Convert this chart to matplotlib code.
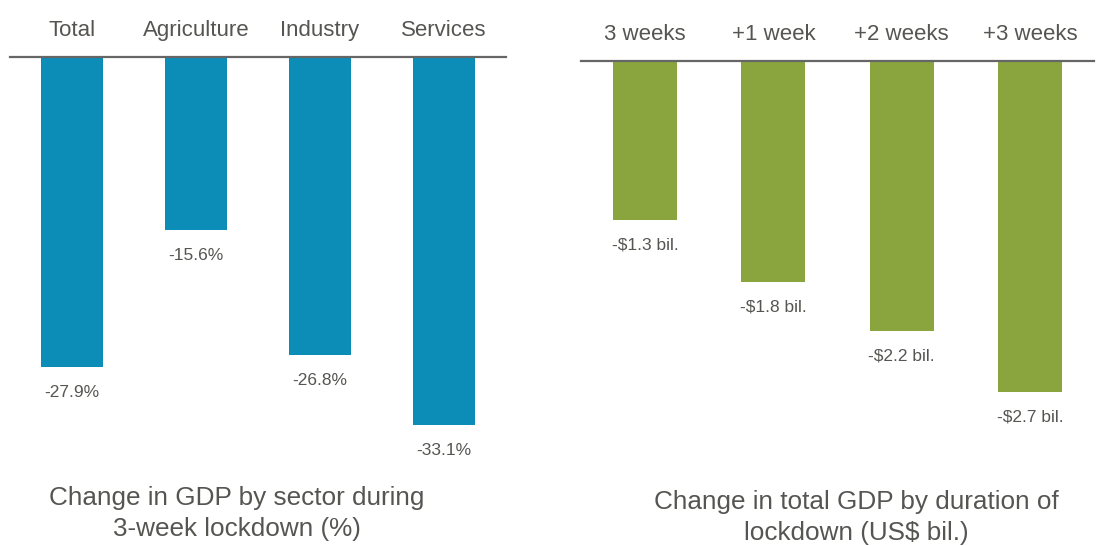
import numpy as np
import matplotlib
matplotlib.use("Agg")
import matplotlib.pyplot as plt

plt.rcParams['font.family'] = ['Liberation Sans', 'DejaVu Sans']

# GDP change by sector, 3-week lockdown (%)
sectors = ['Total', 'Agriculture', 'Industry', 'Services']
sector_change = [-27.9, -15.6, -26.8, -33.1]

# total GDP change by lockdown length (US$ bil.)
durations = ['3 weeks', '+1 week', '+2 weeks', '+3 weeks']
total_change = [-1.3, -1.8, -2.2, -2.7]

blue = '#0c8db8'
green = '#8ba53e'
txt = '#555552'
W, H = 1106, 546

fig = plt.figure(figsize=(W / 100, H / 100), dpi=100)


def panel(rect, cats, vals, color, ylo, fmt):
    ax = fig.add_axes(rect)
    x = np.arange(len(cats))
    ax.bar(x, vals, width=0.5, color=color)
    ax.set_xlim(-0.5, len(cats) - 0.5)
    ax.set_ylim(ylo, 0)
    for s in ['left', 'right', 'bottom']:
        ax.spines[s].set_visible(False)
    ax.spines['top'].set_color('#666666')
    ax.spines['top'].set_linewidth(1.6)
    ax.set_yticks([])
    ax.set_xticks(x)
    ax.set_xticklabels(cats, fontsize=16, color=txt)
    ax.tick_params(axis='x', top=True, bottom=False, labeltop=True,
                   labelbottom=False, length=0, pad=11.5)
    for xi, v in zip(x, vals):
        ax.annotate(fmt(v), (xi, v), xytext=(0, -25), textcoords='offset pixels',
                    ha='center', va='center', fontsize=12.5, color=txt,
                    annotation_clip=False)
    return ax


panel([10 / W, 1 - 460 / H, 496 / W, 403 / H], sectors, sector_change, blue,
      -36.24, lambda v: f'{v:.1f}%')
panel([581 / W, 1 - 430 / H, 513 / W, 369 / H], durations, total_change, green,
      -3.01, lambda v: f'-${abs(v):.1f} bil.')

fig.text(237 / W, 1 - 513.5 / H, 'Change in GDP by sector during\n3-week lockdown (%)',
         ha='center', va='center', fontsize=18.8, color=txt, linespacing=1.4)
fig.text(856 / W, 1 - 517.5 / H, 'Change in total GDP by duration of\nlockdown (US$ bil.)',
         ha='center', va='center', fontsize=18.8, color=txt, linespacing=1.4)

fig.savefig('out.png', dpi=100)
